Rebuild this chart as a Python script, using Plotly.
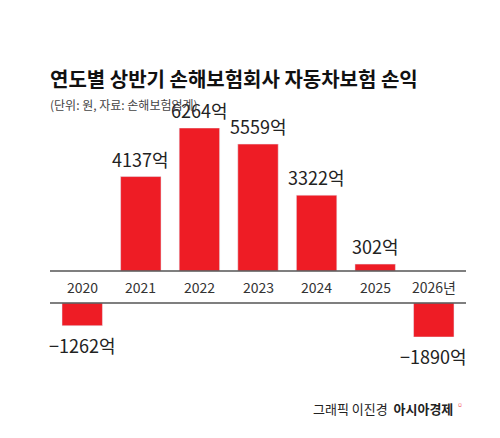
import plotly.graph_objects as go

years = ["2020", "2021", "2022", "2023", "2024", "2025", "2026년"]
values = [-1262, 4137, 6264, 5559, 3322, 302, -1890]
RED = "#ee1c25"
F = "Noto Sans CJK KR"

pos_x = [i for i, v in enumerate(values) if v > 0]
pos_v = [v for v in values if v > 0]
neg_x = [i for i, v in enumerate(values) if v < 0]
neg_v = [v for v in values if v < 0]

def lab(v):
    return f"{v}억".replace("-", "−")

fig = go.Figure()
fig.add_bar(x=pos_x, y=pos_v, marker_color=RED, width=0.69, xaxis="x", yaxis="y")
fig.add_bar(x=neg_x, y=neg_v, marker_color=RED, width=0.69, xaxis="x2", yaxis="y2")

H = 438
def fy(px):
    return (H - px) / H

lf = dict(family=F, size=18, color="#222")
ann = [dict(x=x, y=v, xref="x", yref="y", text=lab(v), showarrow=False, yanchor="bottom",
            yshift=3, font=lf) for x, v in zip(pos_x, pos_v)]
ann += [dict(x=x, y=v, xref="x2", yref="y2", text=lab(v), showarrow=False, yanchor="top",
             yshift=-4, font=lf) for x, v in zip(neg_x, neg_v)]
ann += [dict(x=i, y=fy(279), xref="x", yref="paper", text=t, showarrow=False,
             font=dict(family=F, size=14, color="#333")) for i, t in enumerate(years)]
ann += [
    dict(x=40/500, y=fy(70), xref="paper", yref="paper", xanchor="left", yanchor="middle",
         text="<b>연도별 상반기 손해보험회사 자동차보험 손익</b>", showarrow=False,
         font=dict(family=F, size=20, color="#111")),
    dict(x=40/500, y=fy(96), xref="paper", yref="paper", xanchor="left", yanchor="middle",
         text="(단위: 원, 자료: 손해보험업계)", showarrow=False,
         font=dict(family=F, size=12, color="#444")),
    dict(x=447/500, y=fy(400), xref="paper", yref="paper", xanchor="right", yanchor="middle",
         text="그래픽 이진경  <b>아시아경제</b>", showarrow=False,
         font=dict(family=F, size=13, color="#222")),
    dict(x=452/500, y=fy(396), xref="paper", yref="paper", xanchor="center", yanchor="middle",
         text="▫", showarrow=False, font=dict(family=F, size=10, color=RED)),
]
shapes = [
    dict(type="line", xref="paper", yref="paper", x0=42/500, x1=458/500, y0=fy(263), y1=fy(263),
         line=dict(color="#555", width=1.3)),
    dict(type="line", xref="paper", yref="paper", x0=42/500, x1=458/500, y0=fy(295), y1=fy(295),
         line=dict(color="#555", width=1.3)),
]

fig.update_layout(
    width=500, height=438, margin=dict(l=0, r=0, t=0, b=0),
    paper_bgcolor="white", plot_bgcolor="white", showlegend=False,
    xaxis=dict(domain=[42/500, 458/500], range=[-0.55, 6.55], visible=False),
    xaxis2=dict(domain=[42/500, 458/500], range=[-0.55, 6.55], visible=False, anchor="y2"),
    yaxis=dict(domain=[fy(263), fy(120)], range=[0, 6264], visible=False),
    yaxis2=dict(domain=[fy(329), fy(295)], range=[-1890, 0], visible=False, anchor="x2"),
    annotations=ann, shapes=shapes,
)
fig.write_html("out.html")
